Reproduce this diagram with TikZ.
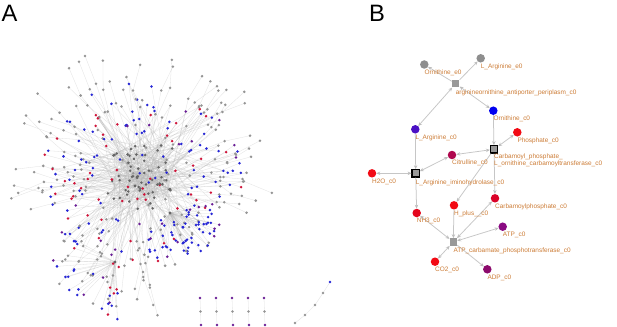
\documentclass[tikz,border=0pt]{standalone}
\usepackage{fontspec}
\setmainfont{Liberation Sans}
\usetikzlibrary{arrows.meta}
\definecolor{nb}{HTML}{2626D6}
\definecolor{nr}{HTML}{D0143A}
\definecolor{np}{HTML}{6A1E96}
\definecolor{ng}{HTML}{959595}
\definecolor{nd}{HTML}{666666}
\definecolor{lblc}{HTML}{CD7D37}
\definecolor{mgrey}{HTML}{8E8E8E}
\definecolor{rgrey}{HTML}{999999}
\definecolor{edgec}{HTML}{C6C6C6}
\definecolor{arrc}{HTML}{BDBDBD}
\definecolor{cBlue}{HTML}{0000F0}
\definecolor{cLarg}{HTML}{4A10C4}
\definecolor{cCit}{HTML}{B0084E}
\definecolor{cRed}{HTML}{F20A14}
\definecolor{cNH}{HTML}{E4061C}
\definecolor{cCP}{HTML}{DA0228}
\definecolor{cATP}{HTML}{8A0A82}
\definecolor{cADP}{HTML}{8C0A6C}
\tikzset{
  an/.style={circle,inner sep=0pt,minimum size=2.8pt},
  aedge/.style={draw=black!28,draw opacity=0.42,line width=0.3pt},
  met/.style={circle,inner sep=0pt,minimum size=8.5pt},
  rxn/.style={rectangle,inner sep=0pt,minimum size=7.5pt,fill=rgrey},
  rxb/.style={rectangle,inner sep=0pt,minimum size=7.2pt,fill=rgrey,draw=black,line width=1.3pt},
  lbl/.style={anchor=west,inner sep=0pt,text=lblc,font=\fontsize{6.45}{7.6}\selectfont},
  bedge/.style={draw=edgec,line width=0.75pt},
  one/.style={bedge,-{Stealth[length=3.8pt,width=3.4pt,color=arrc]}},
  two/.style={bedge,{Stealth[length=3.8pt,width=3.4pt,color=arrc]}-{Stealth[length=3.8pt,width=3.4pt,color=arrc]}},
  panel/.style={anchor=base west,inner sep=0pt,font=\fontsize{23.7}{26}\selectfont}
}
\pgfmathdeclarerandomlist{corecols}{{nd}{nd}{nd}{nd}{nd}{nd}{nr}{nb}{ng}}
\pgfmathdeclarerandomlist{ringcols}{{nb}{nb}{nb}{nb}{ng}{ng}{ng}{nr}{nr}{np}}
\pgfmathdeclarerandomlist{hubcols}{{nb}{nb}{nb}{nb}{nb}{nb}{np}{ng}}
\pgfmathdeclarerandomlist{hubtwocols}{{nb}{nb}{np}{np}{ng}{ng}{nr}}
\begin{document}
\begin{tikzpicture}[x=1pt,y=-1pt]
\useasboundingbox (0,0) rectangle (617,326);
\fill[white] (0,0) rectangle (617,326);

% ---------------- Panel A ----------------
\node[panel] (labA) at (1.5,22) {A};
\pgfmathsetseed{11}
% core positions
\foreach \i in {1,...,90}{
  \pgfmathsetmacro\px{140+22*(rand+rand)}
  \pgfmathsetmacro\py{176+19*(rand+rand)}
  \pgfmathrandomitem{\c}{corecols}
  \coordinate (c\i) at (\px,\py);
  \expandafter\xdef\csname colc\i\endcsname{\c}
}
\foreach \i in {1,...,90}{
  \foreach \j in {1,2}{
    \pgfmathtruncatemacro\k{mod(\i-1+random(1,89),90)+1}
    \draw[aedge] (c\i) -- (c\k);
  }
}
% ring
\foreach \i in {1,...,220}{
  \pgfmathsetmacro\a{rnd*360}
  \pgfmathsetmacro\r{45+52*rnd}
  \pgfmathsetmacro\px{140+1.05*\r*cos(\a)}
  \pgfmathsetmacro\py{178+0.98*\r*sin(\a)}
  \pgfmathrandomitem{\c}{ringcols}
  \coordinate (r\i) at (\px,\py);
  \expandafter\xdef\csname colr\i\endcsname{\c}
  \pgfmathtruncatemacro\k{random(1,90)}
  \pgfmathtruncatemacro\m{random(1,90)}
  \draw[aedge] (r\i) -- (c\k);
  \pgfmathtruncatemacro\flag{rnd<0.25 ? 1 : 0}
  \ifnum\flag=1
    \draw[aedge] (r\i) -- (c\m);
  \fi
}
% far spokes
\foreach \i in {1,...,62}{
  \pgfmathsetmacro\a{80+300*rnd}
  \pgfmathsetmacro\r{100+42*rnd}
  \pgfmathsetmacro\b{\a+5*rand}
  \pgfmathsetmacro\fx{max(4,min(325,140+0.97*\r*cos(\a)))}
  \pgfmathsetmacro\fy{max(38,min(322,178+0.98*\r*sin(\a)))}
  \pgfmathsetmacro\mx{140+0.76*\r*cos(\b)}
  \pgfmathsetmacro\my{178+0.76*\r*sin(\b)}
  \coordinate (fm\i) at (\mx,\my);
  \coordinate (ff\i) at (\fx,\fy);
  \pgfmathtruncatemacro\k{random(1,90)}
  \draw[aedge] (ff\i) -- (fm\i);
  \draw[aedge] (fm\i) -- (c\k);
}
% hub 1
\coordinate (h1) at (170,213);
\foreach \k in {3,17,29,44,58,71,85}{\draw[aedge] (h1) -- (c\k);}
\foreach \i in {1,...,55}{
  \pgfmathsetmacro\a{-40+165*rnd}
  \pgfmathsetmacro\r{12+34*rnd}
  \pgfmathsetmacro\px{170+1.25*\r*cos(\a)}
  \pgfmathsetmacro\py{213+\r*sin(\a)}
  \pgfmathrandomitem{\c}{hubcols}
  \coordinate (hb\i) at (\px,\py);
  \expandafter\xdef\csname colhb\i\endcsname{\c}
  \draw[aedge] (hb\i) -- (h1);
}
% hub 2
\coordinate (h2) at (115,262);
\foreach \k in {5,22,39,61,77}{\draw[aedge] (h2) -- (c\k);}
\foreach \i in {1,...,32}{
  \pgfmathsetmacro\a{85+125*rnd}
  \pgfmathsetmacro\r{15+48*rnd}
  \pgfmathsetmacro\px{115+\r*cos(\a)}
  \pgfmathsetmacro\py{min(323,262+\r*sin(\a))}
  \pgfmathrandomitem{\c}{hubtwocols}
  \coordinate (hc\i) at (\px,\py);
  \expandafter\xdef\csname colhc\i\endcsname{\c}
  \draw[aedge] (hc\i) -- (h2);
}
% isolated chains bottom right
\foreach \x [count=\n] in {200,216,232,248,264}{
  \coordinate (ka\n) at (\x,298);
  \coordinate (kb\n) at (\x+0.5,311.5);
  \coordinate (kc\n) at (\x+1,325);
  \draw[aedge] (ka\n) -- (kb\n) -- (kc\n);
}
\coordinate (q1) at (330,282);
\coordinate (q2) at (323,293);
\coordinate (q3) at (315,305);
\coordinate (q4) at (305,315);
\coordinate (q5) at (295,323);
\draw[aedge] (q1) -- (q2) -- (q3) -- (q4) -- (q5);

% nodes of panel A
\foreach \i in {1,...,220}{\edef\c{\csname colr\i\endcsname}\node[an,fill=\c] (nr\i) at (r\i) {};}
\foreach \i in {1,...,62}{\node[an,fill=ng] (nfm\i) at (fm\i) {};\node[an,fill=ng] (nff\i) at (ff\i) {};}
\foreach \i in {1,...,55}{\edef\c{\csname colhb\i\endcsname}\node[an,fill=\c] (nhb\i) at (hb\i) {};}
\foreach \i in {1,...,32}{\edef\c{\csname colhc\i\endcsname}\node[an,fill=\c] (nhc\i) at (hc\i) {};}
\foreach \i in {1,...,90}{\edef\c{\csname colc\i\endcsname}\node[an,fill=\c] (nc\i) at (c\i) {};}
\node[an,fill=nd,minimum size=3.2pt] (nh1) at (h1) {};
\node[an,fill=nd,minimum size=3.2pt] (nh2) at (h2) {};
\foreach \n in {1,...,5}{
  \node[an,fill=np] (nka\n) at (ka\n) {};
  \node[an,fill=ng] (nkb\n) at (kb\n) {};
  \node[an,fill=np] (nkc\n) at (kc\n) {};
}
\node[an,fill=nb] (nq1) at (q1) {};
\foreach \n in {2,...,5}{\node[an,fill=ng] (nq\n) at (q\n) {};}

% ---------------- Panel B ----------------
\node[panel] (labB) at (369,22) {B};

\node[met,fill=mgrey] (oe) at (424.3,64.5) {};
\node[met,fill=mgrey] (le) at (480.7,58.3) {};
\node[rxn] (ap) at (455.7,83.7) {};
\node[met,fill=cBlue] (oc) at (493.3,110.7) {};
\node[met,fill=cLarg] (lc) at (415.3,129.3) {};
\node[met,fill=cCit] (cit) at (452,155) {};
\node[rxb] (ct) at (494,149.3) {};
\node[met,fill=cRed] (pho) at (517.3,132.3) {};
\node[met,fill=cRed] (h2o) at (372,173.3) {};
\node[rxb] (ih) at (415.7,173.3) {};
\node[met,fill=cNH] (nh3) at (416.7,213) {};
\node[met,fill=cRed] (hp) at (454,205.3) {};
\node[met,fill=cCP] (cp) at (495,198.3) {};
\node[met,fill=cATP] (atp) at (502.7,226.7) {};
\node[rxn] (ak) at (453.3,242) {};
\node[met,fill=cRed] (co2) at (435,261.7) {};
\node[met,fill=cADP] (adp) at (487.3,269.3) {};

\draw[one] (ap) -- (oe);
\draw[one] (ap) -- (le);
\draw[two] (lc) -- (ap);
\draw[two] (ap) -- (oc);
\draw[one] (oc) -- (ct);
\draw[two] (ct) -- (pho);
\draw[two] (ct) -- (cit);
\draw[one] (ct) -- (cp);
\draw[one] (ct) -- (hp);
\draw[one] (lc) -- (ih);
\draw[two] (cit) -- (ih);
\draw[two] (h2o) -- (ih);
\draw[one] (ih) -- (nh3);
\draw[two] (nh3) -- (ak);
\draw[one] (hp) -- (ak);
\draw[two] (cp) -- (ak);
\draw[two] (atp) -- (ak);
\draw[two] (co2) -- (ak);
\draw[one] (ak) -- (adp);

\node[lbl] (loe) at (424.3,72.8) {Ornithine\_e0};
\node[lbl] (lle) at (480.7,66.6) {L\_Arginine\_e0};
\node[lbl] (lap) at (455.7,93.1) {arginineornithine\_antiporter\_periplasm\_c0};
\node[lbl] (loc) at (493.3,119) {Ornithine\_c0};
\node[lbl] (llc) at (415.3,137.6) {L\_Arginine\_c0};
\node[lbl] (lcit) at (452,163.3) {Citrulline\_c0};
\node[lbl,anchor=north west,align=left] (lct) at (494,153.3) {Carbamoyl\_phosphate\_\\L\_ornithine\_carbamoyltransferase\_c0};
\node[lbl] (lpho) at (517.3,140.6) {Phosphate\_c0};
\node[lbl] (lh2o) at (372,181.6) {H2O\_c0};
\node[lbl] (lih) at (415.7,182.6) {L\_Arginine\_iminohydrolase\_c0};
\node[lbl] (lnh3) at (416.7,221.3) {NH3\_c0};
\node[lbl] (lhp) at (454,213.6) {H\_plus\_\_c0};
\node[lbl] (lcp) at (495,206.6) {Carbamoylphosphate\_c0};
\node[lbl] (latp) at (502.7,235) {ATP\_c0};
\node[lbl] (lak) at (453.3,251) {ATP\_carbamate\_phosphotransferase\_c0};
\node[lbl] (lco2) at (435,270) {CO2\_c0};
\node[lbl] (ladp) at (487.3,277.6) {ADP\_c0};
\end{tikzpicture}
\end{document}
